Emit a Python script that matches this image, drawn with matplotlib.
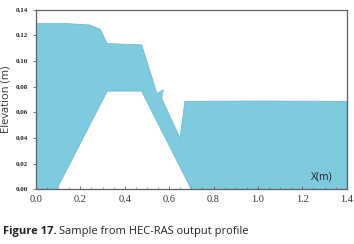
import numpy as np
import matplotlib.pyplot as plt
from matplotlib.ticker import MultipleLocator

# water surface profile (x in m, elevation in m)
surface_x = [0.0, 0.14, 0.24, 0.29, 0.32, 0.476, 0.545, 0.573, 0.566, 0.649, 0.671, 1.0, 1.4]
surface_y = [0.129, 0.129, 0.128, 0.1245, 0.1135, 0.1125, 0.0745, 0.0775, 0.071, 0.0398, 0.0685, 0.0688, 0.0685]

# channel bed (obstacle)
bed_x = [0.0, 0.093, 0.321, 0.476, 0.70, 1.4]
bed_y = [0.0, 0.0, 0.0765, 0.0765, 0.0, 0.0]

x_ticks = [0.0, 0.2, 0.4, 0.6, 0.8, 1.0, 1.2, 1.4]
y_ticks = [0.00, 0.02, 0.04, 0.06, 0.08, 0.10, 0.12, 0.14]

WATER = '#7ecbe0'
SPINE = '#5f5f5f'

fig = plt.figure(figsize=(3.54, 2.44), dpi=100)
ax = fig.add_axes([0.1017, 0.2238, 0.8777, 0.7372])

# polygon: surface left->right, then bed right->left
poly_x = list(surface_x) + bed_x[::-1]
poly_y = list(surface_y) + bed_y[::-1]
ax.fill(poly_x, poly_y, color=WATER, lw=0.6, edgecolor='#6fb8d6')

ax.set_xlim(0, 1.4)
ax.set_ylim(0, 0.14)
ax.set_xticks(x_ticks)
ax.set_yticks(y_ticks)
ax.set_xticklabels([f'{v:.1f}' for v in x_ticks], family='Liberation Serif', fontsize=7.5, color='#333333')
ax.set_yticklabels([f'{v:.2f}' for v in y_ticks], family='Liberation Serif', fontsize=5,
                   fontweight='bold', color='#222222')
ax.xaxis.set_minor_locator(MultipleLocator(0.05))
ax.tick_params(axis='x', which='major', direction='in', length=2.5, width=0.6, color=SPINE, pad=4)
ax.tick_params(axis='x', which='minor', direction='in', length=1.5, width=0.4, color=SPINE)
ax.tick_params(axis='y', which='major', direction='out', length=2, width=0.6, color=SPINE, pad=4)

for s in ax.spines.values():
    s.set_color(SPINE)
    s.set_linewidth(0.9)

ax.set_ylabel('Elevation (m)', family='Open Sans', fontsize=8, color='#333333', labelpad=3)
ax.text(0.955, 0.07, 'X(m)', transform=ax.transAxes, ha='right', va='center',
        family='Open Sans', fontsize=7.5, color='#222222')

# caption: bold label followed by regular text
cap1 = fig.text(0.009, 0.05, 'Figure 17.', family='Open Sans', fontweight='bold', fontsize=8,
                color='#222222', va='center', ha='left')
fig.canvas.draw()
bb = cap1.get_window_extent(fig.canvas.get_renderer())
fig.text(bb.x1 / fig.bbox.width + 0.007, 0.05, 'Sample from HEC-RAS output profile',
         family='Open Sans', fontsize=8, color='#222222', va='center', ha='left')

fig.savefig('out.png', dpi=100)
